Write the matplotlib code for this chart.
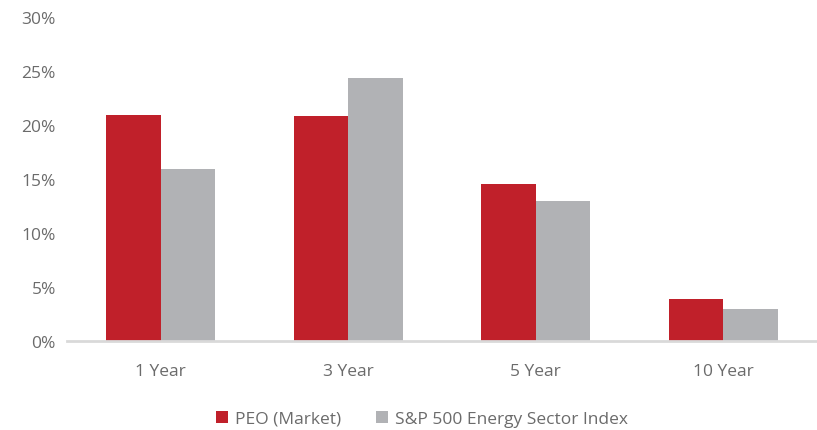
import matplotlib
matplotlib.use('Agg')
import matplotlib.pyplot as plt
import numpy as np
from matplotlib.ticker import FuncFormatter

plt.rcParams['font.family'] = ['Open Sans', 'DejaVu Sans']

periods = ['1 Year', '3 Year', '5 Year', '10 Year']
peo = [20.9, 20.8, 14.5, 3.9]
sp_energy = [15.9, 24.4, 13.0, 3.0]

red = '#C0202A'
gray = '#B1B2B5'
text_c = '#6B6B6B'

fig = plt.figure(figsize=(8.17, 4.31), dpi=100)
ax = fig.add_axes([0.082, 0.2065, 0.918, 0.7515])

x = np.arange(len(periods))
w = 0.29
ax.bar(x - w / 2, peo, width=w, color=red, label='PEO (Market)')
ax.bar(x + w / 2, sp_energy, width=w, color=gray, label='S&P 500 Energy Sector Index')

ax.set_xlim(-0.5, len(periods) - 0.5)
ax.set_ylim(0, 30)
ax.set_yticks(np.arange(0, 31, 5))
ax.yaxis.set_major_formatter(FuncFormatter(lambda v, p: '%d%%' % v))
ax.set_xticks(x)
ax.set_xticklabels(periods)

for s in ['top', 'right', 'left']:
    ax.spines[s].set_visible(False)
ax.spines['bottom'].set_color('#D9D9D9')
ax.spines['bottom'].set_linewidth(2)
ax.tick_params(axis='both', length=0, labelsize=12.5, labelcolor=text_c)
ax.tick_params(axis='x', pad=16)
ax.tick_params(axis='y', pad=8)

ax.legend(loc='center', bbox_to_anchor=(0.473, -0.24), ncol=2, frameon=False,
          fontsize=12.5, labelcolor=text_c, handlelength=0.7, handleheight=0.7,
          handletextpad=0.4, columnspacing=2.0)

plt.savefig('out.png', dpi=100)
